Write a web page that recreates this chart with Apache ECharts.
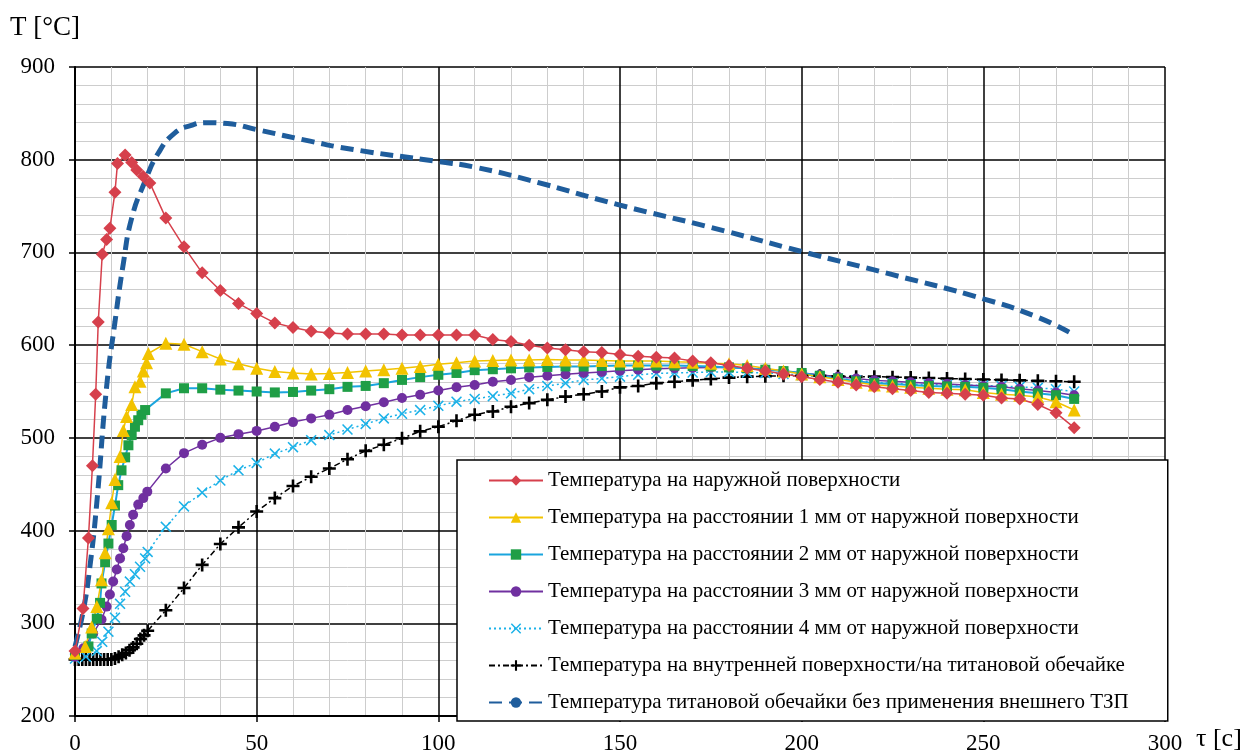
<!DOCTYPE html>
<html>
<head>
<meta charset="utf-8">
<script src="https://cdn.jsdelivr.net/npm/echarts@6/dist/echarts.min.js"></script>
<style>
  html, body { margin: 0; padding: 0; background: #fff; }
  #chart { width: 1251px; height: 755px; }
</style>
</head>
<body>
<div id="chart"></div>
<script>
// time grid used after the dense start, seconds
const t5 = [25, 30, 35, 40, 45, 50, 55, 60, 65, 70, 75, 80, 85, 90, 95, 100, 105, 110, 115, 120,
  125, 130, 135, 140, 145, 150, 155, 160, 165, 170, 175, 180, 185, 190, 195, 200, 205, 210, 215, 220,
  225, 230, 235, 240, 245, 250, 255, 260, 265, 270, 275]

// наружная поверхность
const redEarlyT = [0, 2.2, 3.7, 4.8, 5.7, 6.4, 7.5, 8.7, 9.6, 11, 11.7, 13.8, 15.6, 17, 18.8, 20.6]
const redEarlyV = [270, 316, 392, 470, 547, 625, 698, 714, 726, 765, 796, 805, 797, 789, 782, 775]
const redLateV = [737, 706, 678, 659, 645, 634, 624, 619, 615, 613, 612, 612, 612, 611, 611, 611, 611, 611,
  606, 604, 600, 597, 595, 593, 592, 590, 588, 587, 586, 583, 581,
  578, 575, 572, 569, 566, 563, 560, 557, 555, 553, 551, 549, 548, 547, 546, 543, 542, 536, 527, 511]

// 1 мм
const yellowEarlyT = [0, 2.8, 4.6, 6, 7.3, 8.3, 9.2, 10.1, 11, 12.4, 13.3, 14.2, 15.6, 16.5, 17.9, 18.8, 19.7, 20.2]
const yellowEarlyV = [268, 275, 296, 318, 347, 376, 402, 430, 455, 480, 508, 523, 536, 555, 561, 572, 581, 591]
const yellowLateV = [602, 601, 593, 585, 580, 575, 571.5, 570, 569, 569.5, 570.5, 572, 573.5, 575, 577, 579.5,
  581, 583, 583.5, 584, 584, 584.5, 584, 584, 583.5, 583, 583, 583, 582, 581.5, 580.5,
  580, 578, 575, 572, 569, 566, 563, 560, 557, 556, 554.5, 553.5, 552.5, 552, 549, 547, 546, 544, 539, 530]

// 2 мм
const greenEarlyT = [0, 3.7, 4.6, 6, 6.9, 7.3, 8.3, 9.2, 10.1, 11, 11.9, 12.8, 13.8, 14.7, 15.6, 16.5, 17.4, 18.3, 19.3]
const greenEarlyV = [266, 275, 289, 305, 322, 343, 366, 386, 406, 427, 449, 465, 479, 492, 503, 512, 519, 525, 530]
const greenLateV = [548, 553.5, 553.5, 552, 551, 550, 549, 549.5, 551, 552.5, 555, 556, 559, 562.5, 565.5, 568,
  570, 573, 574, 575, 576, 576.5, 577, 577, 577.5, 578, 578, 578, 578, 577.5, 577,
  576, 575, 573.5, 572, 570, 567, 564, 561, 559, 558, 557, 556, 555.5, 555, 554, 552.5, 550, 548, 546, 542]

// 3 мм
const purpleEarlyT = [0, 2.3, 5, 7.3, 8.7, 9.6, 10.5, 11.5, 12.4, 13.3, 14.2, 15.1, 16, 17.4, 18.8, 19.9]
const purpleEarlyV = [264, 273, 289, 304, 318, 331, 345, 358, 370, 381, 394, 406, 417, 428, 435, 442]
const purpleLateV = [467, 483.5, 492.5, 500, 504, 507.5, 512, 517, 521, 525, 530, 534, 538.5, 543, 546.5, 551,
  554.5, 557, 560.5, 562.5, 565.5, 567, 568.5, 570, 571, 572.5, 573.5, 574.5, 575, 575.5, 576,
  576, 575, 574, 572, 570, 568, 566, 564, 562, 561, 560, 559, 558, 557, 556, 555, 553, 551, 549, 546]

// 4 мм
const cyanEarlyT = [0, 3, 6, 7.5, 9.2, 11, 12.4, 13.8, 15.1, 16.5, 17.9, 19.3, 20]
const cyanEarlyV = [262, 264, 270, 280, 291, 306, 321, 334, 345, 353, 361, 370, 377]
const cyanLateV = [404, 426, 441, 454, 465, 473, 483, 490, 497.5, 503, 509, 515, 521, 526, 530, 534.5,
  539, 542, 545, 548, 552.5, 556, 559, 562.5, 564, 566, 568, 569.5, 570, 570.5, 571,
  571, 570.5, 570, 569, 567.5, 566, 564, 562, 560, 559, 558, 557.5, 557, 557, 556.5, 556, 555, 554, 552.5, 550]

// внутренняя поверхность / титановая обечайка
const blackEarlyT = [0, 1, 2, 3, 4, 5, 6, 7, 8, 9, 10, 11, 12, 13, 14, 15, 16, 17, 18, 19, 20]
const blackEarlyV = [261, 261, 261, 261, 261, 261, 261, 261, 261, 261, 261, 262, 264, 266, 268, 271, 274, 278, 283, 287, 292]
const blackLateV = [314, 338, 363, 385.5, 403.5, 420.5, 435, 448, 458, 467, 477, 486, 492.5, 499.5, 507, 512,
  518.5, 525, 528.5, 533.5, 537.5, 541, 544.5, 547, 550, 554.5, 556, 559, 560.5, 562, 563.5,
  565, 566, 566.5, 567, 567, 567, 566.5, 566, 566, 565.5, 565, 564.5, 564, 563.5, 563, 562.5, 562, 561.5, 561, 560.5]

// обечайка без внешнего ТЗП
const blueT = [0, 2.3, 4.1, 6, 8.7, 11, 13.3, 15.6, 19.3, 22.9, 27.5, 32, 36.2, 42, 50, 64.7, 76.6, 100, 110, 125, 150, 175, 200, 225, 250, 265, 275]
const blueV = [275, 314, 361, 430, 555, 625, 688, 737, 777, 807, 829, 837, 840, 839, 832.5, 820, 811, 798, 792, 778, 751, 727, 701, 676, 650, 630, 611]

const names = [
  'Температура на наружной поверхности',
  'Температура на расстоянии 1 мм от наружной поверхности',
  'Температура на расстоянии 2 мм от наружной поверхности',
  'Температура на расстоянии 3 мм от наружной поверхности',
  'Температура на расстоянии 4 мм от наружной поверхности',
  'Температура на внутренней поверхности/на титановой обечайке',
  'Температура титановой обечайки без применения внешнего ТЗП'
]

const FONT = '"Liberation Serif", "DejaVu Serif", serif'
const PLUS = 'path://M4,0H6V4H10V6H6V10H4V6H0V4H4Z'
const CROSS = 'path://M1,0L5,4L9,0L10,1L6,5L10,9L9,10L5,6L1,10L0,9L4,5L0,1Z'

function pairs(ts, vs) {
  return ts.map((t, i) => [t, vs[i]])
}

function markSeries(name, ts, vs, symbol, size, markColor, lineColor, lineType, lineWidth) {
  return {
    name: name,
    type: 'line',
    data: pairs(ts, vs),
    symbol: symbol,
    symbolSize: size,
    showAllSymbol: true,
    itemStyle: { color: markColor },
    lineStyle: { color: lineColor, width: lineWidth, type: lineType },
    emphasis: { disabled: true }
  }
}

const chart = echarts.init(document.getElementById('chart'))

const axisText = { fontFamily: FONT, fontSize: 23, color: '#000' }

const option = {
  animation: false,
  backgroundColor: '#fff',
  grid: { left: 75, right: 86, top: 67, bottom: 39 },
  xAxis: {
    type: 'value',
    min: 0,
    max: 300,
    interval: 50,
    axisLine: { lineStyle: { color: '#000', width: 2 } },
    axisTick: { show: true, length: 6, lineStyle: { color: '#000', width: 1.5 } },
    axisLabel: Object.assign({ margin: 16 }, axisText),
    splitLine: { show: true, lineStyle: { color: '#000', width: 1.5 } },
    minorTick: { show: false, splitNumber: 5 },
    minorSplitLine: { show: true, lineStyle: { color: '#cdcdcd', width: 1 } }
  },
  yAxis: {
    type: 'value',
    min: 200,
    max: 900,
    interval: 100,
    axisLine: { show: true, lineStyle: { color: '#000', width: 2 } },
    axisTick: { show: true, length: 6, lineStyle: { color: '#000', width: 1.5 } },
    axisLabel: Object.assign({ margin: 20 }, axisText),
    splitLine: { show: true, lineStyle: { color: '#000', width: 1.5 } },
    minorTick: { show: false, splitNumber: 5 },
    minorSplitLine: { show: true, lineStyle: { color: '#cdcdcd', width: 1 } }
  },
  legend: {
    orient: 'vertical',
    left: 457,
    top: 460,
    padding: [10, 39, 8, 31],
    itemWidth: 54,
    itemHeight: 13,
    itemGap: 16,
    backgroundColor: '#fff',
    borderColor: '#000',
    borderWidth: 1.5,
    textStyle: { fontFamily: FONT, fontSize: 21, color: '#000' },
    data: names
  },
  graphic: [
    { type: 'text', left: 10, top: 14, style: { text: 'T [°C]', font: '27px ' + FONT, fill: '#000' } },
    { type: 'text', left: 1196, top: 726, style: { text: 'τ [c]', font: '26px ' + FONT, fill: '#000' } }
  ],
  series: [
    {
      name: names[6],
      type: 'line',
      data: pairs(blueT, blueV),
      smooth: true,
      showSymbol: false,
      symbol: 'none',
      lineStyle: { color: '#1f5d9c', width: 5, type: [13, 7] },
      itemStyle: { color: '#1f5d9c' },
      emphasis: { disabled: true },
      z: 3
    },
    markSeries(names[5], blackEarlyT.concat(t5), blackEarlyV.concat(blackLateV), PLUS, 13, '#000', '#000', [6, 3, 2, 3], 1.5),
    markSeries(names[4], cyanEarlyT.concat(t5), cyanEarlyV.concat(cyanLateV), CROSS, 11, '#1cb2e8', '#1cb2e8', [2, 3], 1.5),
    markSeries(names[3], purpleEarlyT.concat(t5), purpleEarlyV.concat(purpleLateV), 'circle', 10, '#7030a0', '#7030a0', 'solid', 1.5),
    markSeries(names[2], greenEarlyT.concat(t5), greenEarlyV.concat(greenLateV), 'rect', 10, '#1f9e46', '#1aa5de', 'solid', 2),
    markSeries(names[1], yellowEarlyT.concat(t5), yellowEarlyV.concat(yellowLateV), 'triangle', 13, '#f2c300', '#f2c300', 'solid', 1.5),
    markSeries(names[0], redEarlyT.concat(t5), redEarlyV.concat(redLateV), 'diamond', 13, '#d6404c', '#d6404c', 'solid', 1.5)
  ]
}

// legend order follows names, not series order
chart.setOption(option)
</script>
</body>
</html>
